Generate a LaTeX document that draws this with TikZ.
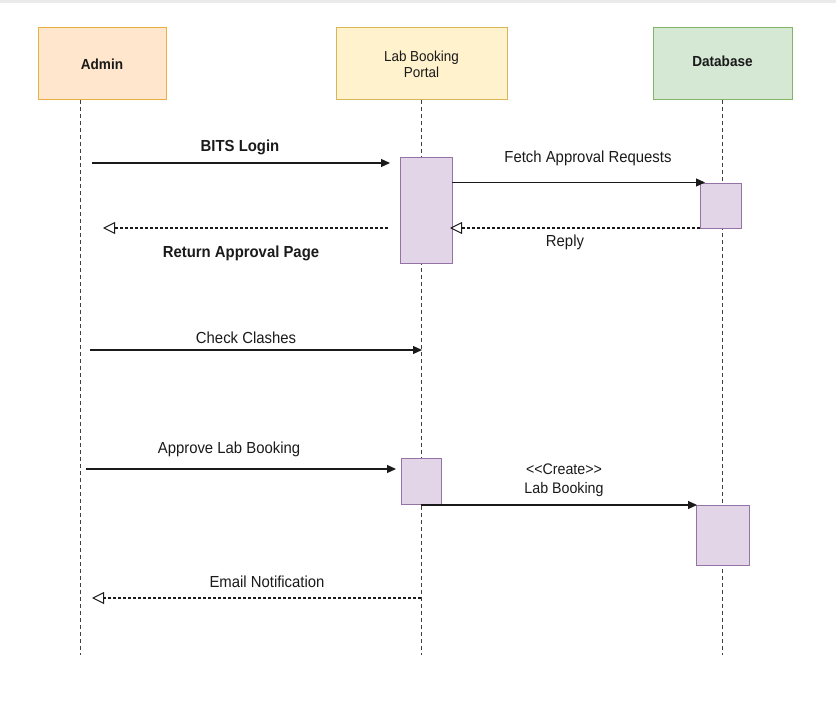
\documentclass[tikz,border=0pt]{standalone}
\usepackage{fontspec}
\setmainfont[FakeStretch=0.93]{Liberation Sans}
\usetikzlibrary{arrows.meta}
\definecolor{adminfill}{HTML}{FFE6CC}
\definecolor{admindraw}{HTML}{E8B040}
\definecolor{portalfill}{HTML}{FFF2CC}
\definecolor{portaldraw}{HTML}{D6B656}
\definecolor{dbfill}{HTML}{D5E8D4}
\definecolor{dbdraw}{HTML}{82B366}
\definecolor{actfill}{HTML}{E1D5E7}
\definecolor{actdraw}{HTML}{9673A6}
\definecolor{ink}{HTML}{1A1A1A}
\tikzset{
  x=1pt,y=-1pt,
  lbl/.style={font=\fontsize{16}{18}\selectfont, align=center, inner sep=0pt, text=ink},
  blbl/.style={lbl, font=\bfseries\fontsize{16}{18}\selectfont},
  head/.style={draw, minimum width=#1, minimum height=72pt, inner sep=0pt, align=center, line width=1pt, text=ink},
  actbox/.style={draw=actdraw, fill=actfill, line width=0.9pt, inner sep=0pt},
  life/.style={dash pattern=on 4pt off 3pt, line width=0.8pt, black!75},
  sync/.style={-{Triangle[length=9pt,width=8pt]}, line width=1.2pt, ink},
  ret/.style={-{Triangle[open,length=12pt,width=12pt,line width=1pt]}, dash pattern=on 3pt off 2pt, line width=1.1pt, ink},
}
\begin{document}
\begin{tikzpicture}
\useasboundingbox (0,0) rectangle (836,706);
\fill[black!8] (0,0) rectangle (836,3);
% headers
\node[head=128pt, fill=adminfill, draw=admindraw, font=\bfseries\fontsize{14.6}{17}\selectfont] (admin) at (102,64) {Admin};
\node[head=171pt, fill=portalfill, draw=portaldraw, font=\fontsize{14.5}{16}\selectfont] (portal) at (421.5,64) {Lab Booking\\Portal};
\node[head=139pt, fill=dbfill, draw=dbdraw, font=\bfseries\fontsize{14.6}{17}\selectfont, text depth=6pt] (db) at (722.5,64) {Database};
% lifelines
\coordinate (adminstart) at (80,100);
\coordinate (adminend) at (80,655);
\coordinate (portalstart) at (421,100);
\coordinate (portalend) at (421,655);
\coordinate (dbstart) at (722,100);
\coordinate (dbend) at (722,655);
\draw[life] (adminstart) -- (adminend);
\draw[life] (portalstart) -- (portalend);
\draw[life] (dbstart) -- (dbend);
% activations
\node[actbox, minimum width=52pt, minimum height=106pt] (pa1) at (426,210) {};
\node[actbox, minimum width=41pt, minimum height=45pt] (da1) at (720.5,205.5) {};
\node[actbox, minimum width=40pt, minimum height=46pt] (pa2) at (421,481) {};
\node[actbox, minimum width=53pt, minimum height=60pt] (da2) at (722.5,535) {};
% message endpoints
\coordinate (m1s) at (92,163);
\coordinate (m1e) at (390,163);
\coordinate (m2s) at (452,182.5);
\coordinate (m2e) at (705,182.5);
\coordinate (m3s) at (700,228);
\coordinate (m3e) at (450,228);
\coordinate (m4s) at (388,228);
\coordinate (m4e) at (103,228);
\coordinate (m5s) at (90,350);
\coordinate (m5e) at (422,350);
\coordinate (m6s) at (86,469);
\coordinate (m6e) at (396,469);
\coordinate (m7s) at (421,505);
\coordinate (m7e) at (697,505);
\coordinate (m8s) at (421,598);
\coordinate (m8e) at (92,598);
\draw[sync] (m1s) -- (m1e);
\draw[sync] (m2s) -- (m2e);
\draw[ret] (m3s) -- (m3e);
\draw[ret] (m4s) -- (m4e);
\draw[sync] (m5s) -- (m5e);
\draw[sync] (m6s) -- (m6e);
\draw[sync] (m7s) -- (m7e);
\draw[ret] (m8s) -- (m8e);
% labels
\node[blbl] (l1) at (240,147) {BITS Login};
\node[lbl] (l2) at (588,158) {Fetch Approval Requests};
\node[lbl] (l3) at (565,242) {Reply};
\node[blbl] (l4) at (241,253) {Return Approval Page};
\node[lbl] (l5) at (246,338) {Check Clashes};
\node[lbl] (l6) at (229,449) {Approve Lab Booking};
\node[lbl, font=\fontsize{15.3}{19.5}\selectfont] (l7) at (564,480) {<{}<Create>{}>\\Lab Booking};
\node[lbl] (l8) at (267,582) {Email Notification};
\end{tikzpicture}
\end{document}
